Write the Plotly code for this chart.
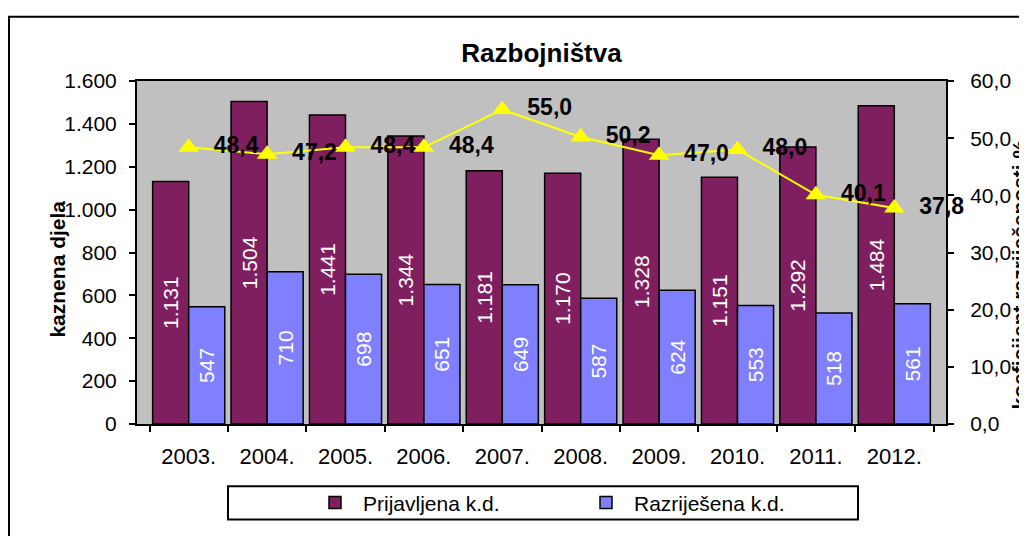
"""
Razbojništva - prijavljena i razriješena kaznena djela s koeficijentom razriješenosti
"""
import plotly.graph_objects as go

# Data
years = ["2003.", "2004.", "2005.", "2006.", "2007.", "2008.", "2009.", "2010.", "2011.", "2012."]
prijavljena = [1131, 1504, 1441, 1344, 1181, 1170, 1328, 1151, 1292, 1484]
razrijesena = [547, 710, 698, 651, 649, 587, 624, 553, 518, 561]
koeficijent = [48.4, 47.2, 48.4, 48.4, 55.0, 50.2, 47.0, 48.0, 40.1, 37.8]

FONT = "Liberation Sans, Arial, sans-serif"
PURPLE = "#801F60"
BLUE = "#8080FF"

# the page body has an 8px margin, so the figure is shifted by that much
OFF = 8
W, H = 1027 - OFF, 536 - OFF
L, T = 137 - OFF, 81 - OFF
R, B = W - (946 - OFF), H - (433 - OFF)
PW, PH = W - L - R, H - T - B


def px_x(x):
    # page pixel -> paper x
    return (x - OFF - L) / PW


def px_y(y):
    # page pixel -> paper y
    return (H - B - (y - OFF)) / PH


fig = go.Figure()

fig.add_trace(go.Bar(
    x=years, y=prijavljena, name="Prijavljena k.d.",
    marker=dict(color=PURPLE, line=dict(color="black", width=1.5)),
    texttemplate="%{y:,}", textposition="inside", textangle=-90,
    insidetextanchor="middle",
    textfont=dict(family=FONT, size=21, color="white"),
))
fig.add_trace(go.Bar(
    x=years, y=razrijesena, name="Razriješena k.d.",
    marker=dict(color=BLUE, line=dict(color="black", width=1.5)),
    texttemplate="%{y:,}", textposition="inside", textangle=-90,
    insidetextanchor="middle",
    textfont=dict(family=FONT, size=21, color="white"),
))
fig.add_trace(go.Scatter(
    x=years, y=koeficijent, yaxis="y2", name="koeficijent",
    mode="lines+markers+text", showlegend=False,
    line=dict(color="#FFFF00", width=2),
    marker=dict(symbol="triangle-up", size=18, color="#FFFF00"),
    texttemplate="  %{y:.1f}", textposition="middle right",
    textfont=dict(family=FONT, size=23, color="black", weight="bold"),
    cliponaxis=False,
))

fig.update_layout(
    width=W, height=H,
    margin=dict(l=L, r=R, t=T, b=B),
    separators=",.",
    paper_bgcolor="white",
    plot_bgcolor="#C0C0C0",
    barmode="group", bargap=0.08, bargroupgap=0,
    font=dict(family=FONT, color="black"),
    hovermode=False,
    title=dict(
        text="<b>Razbojništva</b>", x=0.5, xref="paper", xanchor="center",
        y=1 - (53 - OFF) / H, yanchor="middle",
        font=dict(family=FONT, size=26, color="black"),
    ),
    xaxis=dict(
        type="category", showgrid=False,
        showline=True, linecolor="black", linewidth=2, mirror=True,
        ticks="outside", ticklen=6, tickcolor="black", tickwidth=1.5,
        tickson="boundaries", ticklabelstandoff=12,
        tickfont=dict(family=FONT, size=22),
    ),
    yaxis=dict(
        range=[0, 1600], dtick=200, tickformat=",d", showgrid=False,
        showline=True, linecolor="black", linewidth=2, mirror=True,
        ticks="outside", ticklen=6, tickcolor="black", tickwidth=1.5,
        ticklabelstandoff=8, zeroline=False,
        tickfont=dict(family=FONT, size=21),
    ),
    yaxis2=dict(
        overlaying="y", side="right", range=[0, 60], dtick=10,
        tickformat=".1f", showgrid=False, zeroline=False,
        showline=True, linecolor="black", linewidth=2,
        ticks="outside", ticklen=6, tickcolor="black", tickwidth=1.5,
        ticklabelstandoff=12,
        tickfont=dict(family=FONT, size=21),
    ),
    legend=dict(
        orientation="h", x=px_x(307), xanchor="left",
        y=px_y(514), yanchor="middle",
        itemwidth=46, entrywidth=210, entrywidthmode="pixels",
        bgcolor="rgba(0,0,0,0)", borderwidth=0,
        font=dict(family=FONT, size=21),
    ),
)

# axis titles, placed as in the reference (the right one runs off the edge there too)
fig.add_annotation(
    text="<b>kaznena djela</b>", textangle=-90,
    xref="paper", yref="paper", x=px_x(44), y=px_y(274),
    xanchor="left", yanchor="middle", showarrow=False,
    font=dict(family=FONT, size=21),
)
fig.add_annotation(
    text="<b>koeficijent razriješenosti %</b>", textangle=-90,
    xref="paper", yref="paper", x=px_x(1006), y=px_y(280),
    xanchor="left", yanchor="middle", showarrow=False,
    font=dict(family=FONT, size=21),
)

# outer chart border and legend frame
fig.add_shape(
    type="rect", xref="paper", yref="paper",
    x0=px_x(9), x1=px_x(1045), y0=px_y(550), y1=px_y(15),
    line=dict(color="black", width=2), fillcolor="rgba(0,0,0,0)", layer="below",
)
fig.add_shape(
    type="rect", xref="paper", yref="paper",
    x0=px_x(228), x1=px_x(858), y0=px_y(531), y1=px_y(497),
    line=dict(color="black", width=2), fillcolor="rgba(0,0,0,0)",
)

fig.write_html("out.html")
